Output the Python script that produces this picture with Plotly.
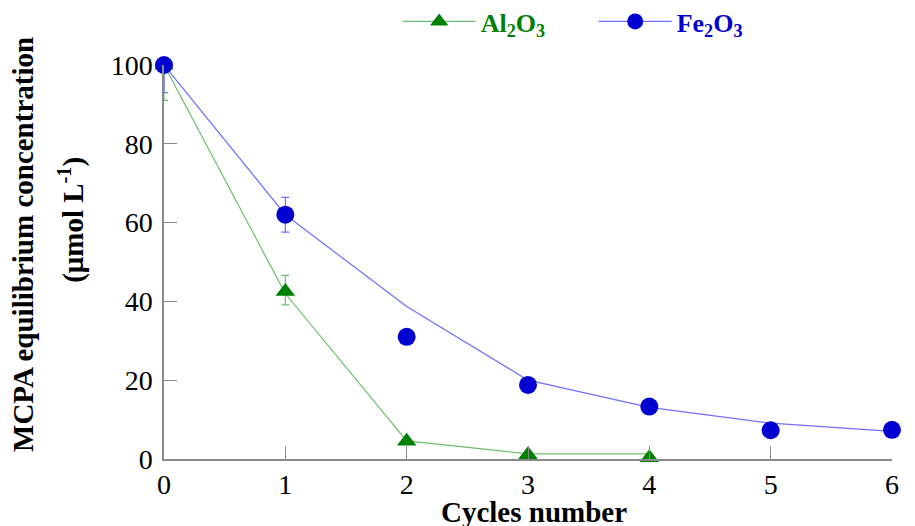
import plotly.graph_objects as go

# ---- data ----
cycles_al = [0, 1, 2, 3, 4]
al_points = [100, 42.5, 4.5, 1.1, 0.3]
al_err_plus = [0, 4.1, 0, 0, 0]
al_err_minus = [9, 3.4, 0, 0, 0]
al_fit = [100, 42.0, 4.6, 1.3, 1.3]

cycles_fe = [0, 1, 2, 3, 4, 5, 6]
fe_points = [100, 62, 31, 18.8, 13.3, 7.3, 7.4]
fe_err_plus = [0, 4.4, 0, 0, 0, 0, 0]
fe_err_minus = [7, 4.4, 0, 0, 0, 0, 0]
fe_fit = [100, 62, 38.7, 20.0, 13.1, 9.1, 7.0]

x_ticks = [0, 1, 2, 3, 4, 5, 6]
y_ticks = [0, 20, 40, 60, 80, 100]

al_name = "<b><span style='color:#008000'>Al<sub>2</sub>O<sub>3</sub></span></b>"
fe_name = "<b><span style='color:#0000d0'>Fe<sub>2</sub>O<sub>3</sub></span></b>"

AL_LINE = "#6cbf6c"
AL_MARK = "#008000"
FE_LINE = "#6f6fff"
FE_MARK = "#0000d0"

fig = go.Figure()

# fit lines
fig.add_trace(go.Scatter(x=cycles_al, y=al_fit, mode="lines",
                         line=dict(color=AL_LINE, width=1.2), showlegend=False,
                         cliponaxis=False))
fig.add_trace(go.Scatter(x=cycles_fe, y=fe_fit, mode="lines",
                         line=dict(color=FE_LINE, width=1.2), showlegend=False,
                         cliponaxis=False))

# measured points with error bars
fig.add_trace(go.Scatter(x=cycles_al, y=al_points, mode="markers",
                         marker=dict(symbol="triangle-up", size=17, color=AL_MARK),
                         error_y=dict(type="data", array=al_err_plus, arrayminus=al_err_minus,
                                      symmetric=False, color=AL_LINE, thickness=1.2, width=4),
                         showlegend=False, cliponaxis=False))
fig.add_trace(go.Scatter(x=cycles_fe, y=fe_points, mode="markers",
                         marker=dict(symbol="circle", size=18, color=FE_MARK),
                         error_y=dict(type="data", array=fe_err_plus, arrayminus=fe_err_minus,
                                      symmetric=False, color=FE_LINE, thickness=1.2, width=4),
                         showlegend=False, cliponaxis=False))

# legend entries
fig.add_trace(go.Scatter(x=[None], y=[None], mode="lines+markers", name=al_name,
                         line=dict(color=AL_LINE, width=1.2),
                         marker=dict(symbol="triangle-up", size=17, color=AL_MARK)))
fig.add_trace(go.Scatter(x=[None], y=[None], mode="lines+markers", name=fe_name,
                         line=dict(color=FE_LINE, width=1.2),
                         marker=dict(symbol="circle", size=18, color=FE_MARK)))

axis_common = dict(
    showline=True, linecolor="#8a8a8a", linewidth=1.5,
    ticks="inside", ticklen=13, tickwidth=1.2, tickcolor="#8a8a8a",
    showgrid=False, zeroline=False, mirror=False,
    tickfont=dict(family="Liberation Serif", size=28, color="black"),
)

fig.update_xaxes(range=[0, 6], tickvals=x_ticks, **axis_common)
fig.update_yaxes(range=[0, 100], tickvals=y_ticks, ticklabelstandoff=4, **axis_common)

fig.update_layout(
    width=907, height=518,
    margin=dict(l=156, r=23, t=57, b=67, autoexpand=False),
    plot_bgcolor="white", paper_bgcolor="white",
    font=dict(family="Liberation Serif", color="black"),
    legend=dict(orientation="h", x=0.321, xanchor="left", y=1.170, yanchor="top",
                font=dict(family="Liberation Serif", size=26),
                itemwidth=73, entrywidth=108, bgcolor="rgba(0,0,0,0)"),
    annotations=[
        dict(text="<b>MCPA equilibrium concentration</b>", xref="paper", yref="paper",
             x=-0.1937, y=0.5457, xanchor="center", yanchor="middle", textangle=-90,
             showarrow=False, font=dict(family="Liberation Serif", size=29, color="black")),
        dict(text="<b>(μmol L<sup>-1</sup>)</b>", xref="paper", yref="paper",
             x=-0.1264, y=0.607, xanchor="center", yanchor="middle", textangle=-90,
             showarrow=False, font=dict(family="Liberation Serif", size=29, color="black")),
        dict(text="<b>Cycles number</b>", xref="paper", yref="paper",
             x=0.508, y=-0.1345, xanchor="center", yanchor="middle",
             showarrow=False, font=dict(family="Liberation Serif", size=29, color="black")),
    ],
)

fig.write_html("out.html")
